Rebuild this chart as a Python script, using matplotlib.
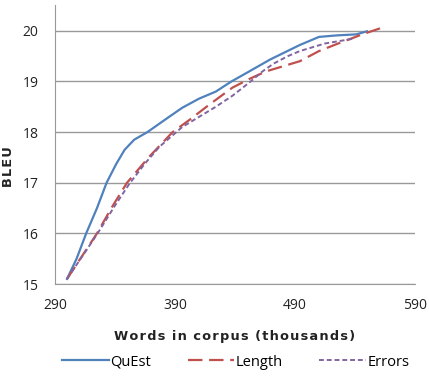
import matplotlib
matplotlib.use("Agg")
import matplotlib.pyplot as plt

# values
quest_x = [300, 308, 316, 325, 333, 341, 348, 356, 367, 382, 396, 410, 424, 437, 452, 469, 494, 510, 525, 541, 550]
quest_y = [15.1, 15.5, 16.0, 16.5, 17.0, 17.37, 17.65, 17.85, 18.0, 18.25, 18.48, 18.66, 18.8, 19.0, 19.2, 19.43, 19.72, 19.88, 19.91, 19.93, 19.99]

length_x = [300, 325, 337, 350, 368, 388, 402, 419, 438, 452, 466, 480, 494, 510, 526, 546, 561]
length_y = [15.1, 16.0, 16.5, 17.0, 17.5, 18.0, 18.24, 18.55, 18.88, 19.05, 19.2, 19.3, 19.4, 19.6, 19.75, 19.93, 20.05]

errors_x = [300, 325, 340, 352, 365, 377, 396, 410, 424, 438, 452, 463, 472, 484, 494, 515, 540]
errors_y = [15.1, 15.98, 16.55, 16.98, 17.38, 17.71, 18.1, 18.3, 18.5, 18.72, 18.98, 19.2, 19.35, 19.5, 19.6, 19.75, 19.85]

xticks = [290, 390, 490, 590]
yticks = [15, 16, 17, 18, 19, 20]

fig = plt.figure(figsize=(4.29, 3.76), dpi=100)
ax = fig.add_axes([55 / 429, 1 - 284 / 376, 360 / 429, 279 / 376])

ax.plot(quest_x, quest_y, color="#4F81BD", lw=1.6, label="QuEst")
ax.plot(length_x, length_y, color="#C0504D", lw=1.6, ls=(0, (6.5, 3)), label="Length")
ax.plot(errors_x, errors_y, color="#8064A2", lw=1.4, ls=(0, (2.5, 1.5)), label="Errors")

ax.set_xlim(290, 590)
ax.set_ylim(15, 20.51)
ax.set_xticks(xticks)
ax.set_yticks(yticks)
ax.grid(axis="y", color="#999999", lw=1)
ax.set_axisbelow(True)
for s in ["top", "right"]:
    ax.spines[s].set_visible(False)
for s in ["left", "bottom"]:
    ax.spines[s].set_color("#999999")
ax.tick_params(length=0, labelsize=10, colors="#222222")
ax.tick_params(axis="x", pad=10)
ax.tick_params(axis="y", pad=12)
for lab in ax.get_xticklabels() + ax.get_yticklabels():
    lab.set_family("Open Sans")

ax.set_xlabel("W o r d s   i n   c o r p u s   ( t h o u s a n d s )".replace("   ", "\u2002").replace(" ", "\u200a"),
              fontsize=9.3, fontweight="bold", family="DejaVu Sans", color="#222222")
ax.xaxis.set_label_coords(0.5, -0.165)
ax.set_ylabel("B L E U".replace(" ", "\u200a"), fontsize=9.3, fontweight="bold",
              family="DejaVu Sans", color="#222222")
ax.yaxis.set_label_coords(-0.112, 0.42)

fig.legend(loc="center", bbox_to_anchor=(0.55, 1 - 362 / 376), ncol=3, frameon=False,
           prop={"family": "Open Sans", "size": 10.5}, handlelength=3.2, handletextpad=0.1,
           columnspacing=2.5)

fig.savefig("out.png", dpi=100)
